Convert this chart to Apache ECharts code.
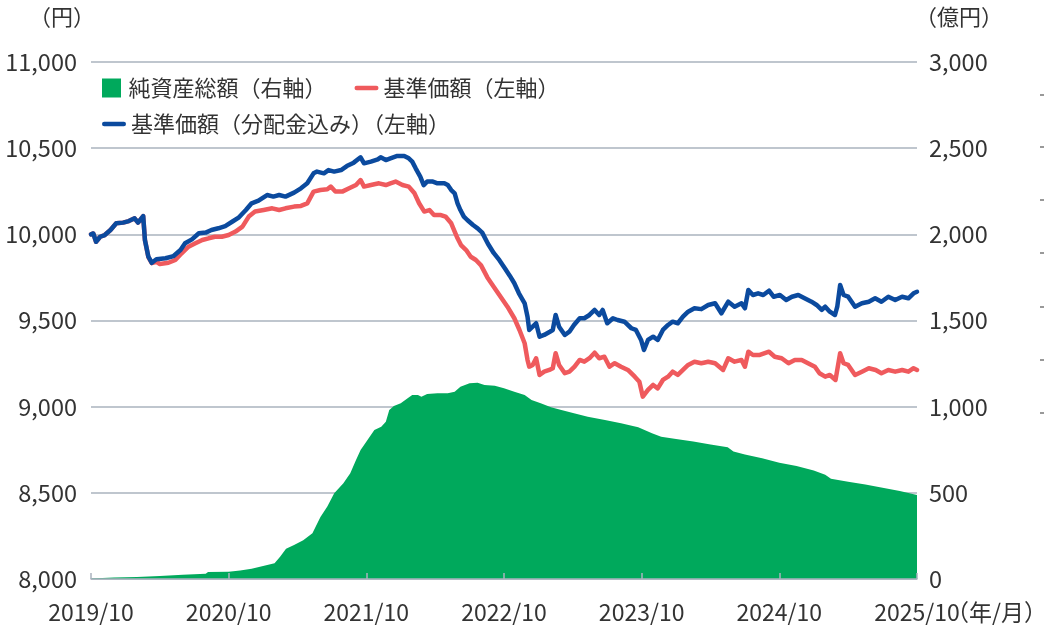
<!DOCTYPE html>
<html>
<head>
<meta charset="utf-8">
<script src="https://cdn.jsdelivr.net/npm/echarts@6/dist/echarts.min.js"></script>
<style>
html,body{margin:0;padding:0;background:#fff;}
#c{width:1044px;height:630px;}
</style>
</head>
<body>
<div id="c"></div>
<script>
// x values are months elapsed since 2019/10
const xTickLabels = ['2019/10','2020/10','2021/10','2022/10','2023/10','2024/10','2025/10'];
const leftTicks = [8000, 11000, 500];
const rightTicks = [0, 3000, 500];

const assetMonths = [0,2,4,6,8,10,10.2,12,13,14,15,16,16.5,17,17.7,18.5,19.3,20,20.6,21.2,22,22.6,23.1,23.5,24.1,24.7,25.3,25.7,26,26.4,27,27.6,28,28.5,28.8,29.3,30.2,31.1,31.7,32.2,33,33.7,34.3,35.2,36,36.9,37.8,38.4,39.2,40.1,41,42.1,43.3,44.8,46.2,47.7,48.9,49.7,51,52.5,54,55.5,56,57,58.5,60,61.5,63,64,64.5,66,67.5,69,70.5,72];
const assetValues = [3,8,12,18,25,30,40,42,50,60,75,92,130,175,197,225,265,360,420,497,555,613,690,749,807,865,884,913,981,1004,1020,1049,1068,1068,1058,1074,1078,1078,1087,1116,1136,1139,1126,1122,1107,1087,1068,1039,1020,996,981,962,942,923,904,880,846,826,812,798,780,765,740,722,700,675,655,630,605,582,565,548,530,510,488];

const blueMonths = [0,0.2,0.44,0.8,1.2,1.7,2.2,2.8,3.3,3.8,4.1,4.55,4.7,5.0,5.3,5.7,6.5,7.2,7.8,8.2,8.8,9.4,10.0,10.5,11.1,11.7,12.3,12.9,13.5,14.0,14.6,15.35,15.9,16.4,16.95,17.7,18.3,18.85,19.4,19.7,20.3,20.7,21.2,21.8,22.3,22.9,23.5,23.8,24.4,25.0,25.25,25.7,26.1,26.7,27.3,27.7,28.0,28.3,28.7,29.0,29.3,29.8,30.2,30.8,31.1,31.4,31.7,31.95,32.2,32.5,32.8,33.3,33.7,34.1,34.6,35.1,35.6,36.1,36.5,36.9,37.3,37.8,38.05,38.2,38.5,38.8,39.1,39.5,40.0,40.25,40.5,40.8,41.3,41.7,42.1,42.6,43.0,43.45,43.9,44.3,44.6,45.0,45.5,45.9,46.5,47.1,47.5,47.95,48.2,48.55,49.0,49.4,49.85,50.3,50.7,51.15,51.6,52.05,52.6,53.2,53.8,54.4,54.95,55.55,56.1,56.7,57.0,57.3,57.7,58.15,58.6,59.1,59.5,60.05,60.6,61.1,61.65,62.2,62.8,63.25,63.7,64.0,64.4,64.85,65.05,65.3,65.6,66.0,66.6,67.2,67.8,68.35,68.9,69.5,70.1,70.7,71.25,71.7,72.0];
const blueValues = [10000,10005,9957,9986,9996,10025,10064,10068,10077,10093,10068,10106,9967,9870,9835,9855,9861,9874,9909,9948,9971,10006,10010,10025,10035,10048,10073,10099,10141,10180,10195,10228,10219,10228,10219,10242,10267,10296,10354,10364,10354,10373,10364,10373,10396,10416,10447,10412,10422,10435,10447,10431,10441,10455,10455,10441,10422,10383,10335,10286,10306,10306,10296,10296,10286,10257,10238,10180,10141,10103,10083,10054,10035,10010,9945,9892,9850,9800,9760,9716,9658,9600,9522,9445,9464,9484,9406,9416,9435,9445,9532,9464,9416,9435,9474,9513,9513,9532,9561,9532,9561,9484,9513,9503,9493,9455,9445,9387,9329,9387,9406,9387,9445,9474,9493,9484,9522,9551,9571,9566,9590,9600,9542,9609,9580,9600,9571,9677,9648,9658,9648,9673,9638,9648,9619,9638,9648,9629,9609,9590,9561,9580,9551,9532,9580,9706,9648,9638,9580,9600,9609,9629,9609,9638,9619,9638,9629,9658,9667];

const redMonths = [0,0.2,0.44,0.8,1.2,1.7,2.2,2.8,3.3,3.8,4.1,4.55,4.7,5.0,5.3,5.7,6.0,6.75,7.35,7.9,8.5,9.1,9.7,10.25,10.8,11.4,12.0,12.6,13.2,13.75,14.3,15.05,15.8,16.4,16.95,17.7,18.3,18.85,19.4,20.0,20.6,20.9,21.3,21.9,22.5,23.1,23.5,23.8,24.4,25.1,25.7,26.1,26.55,27.15,27.7,28.2,28.6,29.05,29.5,29.9,30.5,30.9,31.4,31.7,31.95,32.25,32.7,33.1,33.55,34.0,34.55,35.1,35.7,36.3,36.9,37.35,37.8,38.05,38.2,38.5,38.8,39.1,39.5,39.95,40.25,40.5,40.8,41.3,41.7,42.15,42.6,43.0,43.45,43.9,44.3,44.75,45.2,45.65,46.2,46.8,47.4,47.8,48.1,48.55,49.0,49.4,49.85,50.3,50.7,51.15,51.6,52.05,52.6,53.2,53.8,54.4,55.1,55.55,56.1,56.7,57.0,57.3,57.7,58.3,59.1,59.6,60.2,60.8,61.35,61.95,62.5,63.1,63.5,64.0,64.4,64.9,65.3,65.6,66.0,66.6,67.2,67.8,68.4,68.9,69.5,70.1,70.7,71.25,71.7,72.0];
const redValues = [10000,10005,9957,9986,9996,10025,10064,10068,10077,10093,10068,10106,9967,9868,9833,9840,9828,9835,9851,9890,9928,9948,9967,9977,9986,9986,9996,10016,10045,10103,10132,10141,10151,10141,10151,10161,10165,10180,10248,10257,10261,10277,10248,10248,10267,10286,10315,10277,10286,10296,10286,10296,10306,10286,10277,10238,10180,10132,10141,10112,10112,10103,10064,10016,9977,9938,9909,9870,9851,9820,9750,9696,9638,9580,9513,9445,9368,9271,9232,9242,9281,9184,9203,9213,9223,9310,9242,9194,9203,9232,9271,9261,9281,9313,9281,9290,9232,9252,9232,9213,9174,9145,9058,9097,9126,9106,9155,9174,9203,9184,9213,9242,9261,9252,9261,9252,9213,9281,9261,9271,9232,9319,9300,9300,9319,9290,9281,9252,9271,9271,9252,9232,9194,9174,9184,9155,9310,9252,9242,9184,9203,9223,9213,9194,9213,9203,9213,9203,9223,9213];

const NAMES = ['純資産総額（右軸）','基準価額（左軸）','基準価額（分配金込み）（左軸）'];
const GREEN = '#00a95c', RED = '#ef5a5d', BLUE = '#0b4a9e';
const FONT = "'Noto Sans CJK JP','Noto Sans',sans-serif";
const TXT = '#333333';
const GRID = '#aab3be';

const zip = (xs, ys) => xs.map((x, i) => [x, ys[i]]);
const fmt = v => v.toLocaleString('en-US');
const SQ = 'path://M0,0H10V10H0Z';
const LN = 'path://M2,0H20A2,2,0,0,1,20,4H2A2,2,0,0,1,2,0Z';

const chart = echarts.init(document.getElementById('c'), null, {renderer:'canvas'});
const dashes = [95,147,200,253,307,360,413].map(y => ({
  type:'line', shape:{x1:1040,y1:y,x2:1044,y2:y}, style:{stroke:'#555',lineWidth:1.2}, silent:true
}));
chart.setOption({
  animation:false,
  backgroundColor:'#fff',
  textStyle:{fontFamily:FONT},
  grid:{left:91, right:127, top:62, bottom:51, containLabel:false},
  legend:[
    {left:102, top:77, itemWidth:24, itemHeight:19, itemGap:28, padding:0,
     textStyle:{fontFamily:FONT, fontSize:22, color:TXT},
     data:[{name:NAMES[0], icon:SQ, itemStyle:{color:GREEN}}, {name:NAMES[1], icon:LN, itemStyle:{color:RED}}]},
    {left:102, top:113, itemWidth:24, itemHeight:19, padding:0,
     textStyle:{fontFamily:FONT, fontSize:22, color:TXT},
     data:[{name:NAMES[2], icon:LN, itemStyle:{color:BLUE}}]}
  ],
  xAxis:{
    type:'value', min:0, max:72, interval:12, z:10,
    axisLine:{show:true, lineStyle:{color:GRID, width:1.5}},
    axisTick:{show:true, inside:true, length:6, lineStyle:{color:GRID, width:1.5}},
    splitLine:{show:false},
    axisLabel:{margin:22, fontSize:23, color:TXT, fontFamily:FONT,
      formatter: v => xTickLabels[Math.round(v/12)] || ''}
  },
  yAxis:[
    {type:'value', min:leftTicks[0], max:leftTicks[1], interval:leftTicks[2], position:'left',
     axisLine:{show:false}, axisTick:{show:false},
     splitLine:{show:true, lineStyle:{color:GRID, width:1.5}},
     axisLabel:{margin:14, fontSize:23.5, color:TXT, fontFamily:FONT, formatter: fmt}},
    {type:'value', min:rightTicks[0], max:rightTicks[1], interval:rightTicks[2], position:'right',
     axisLine:{show:false}, axisTick:{show:false}, splitLine:{show:false},
     axisLabel:{margin:12, fontSize:23.5, color:TXT, fontFamily:FONT, formatter: fmt}}
  ],
  series:[
    {name:NAMES[0], type:'line', yAxisIndex:1, data:zip(assetMonths, assetValues),
     symbol:'none', lineStyle:{width:0, color:GREEN}, itemStyle:{color:GREEN},
     areaStyle:{color:GREEN, opacity:1}, z:1},
    {name:NAMES[1], type:'line', yAxisIndex:0, data:zip(redMonths, redValues),
     symbol:'none', lineStyle:{width:4.5, color:RED, cap:'round', join:'round'}, itemStyle:{color:RED}, z:3},
    {name:NAMES[2], type:'line', yAxisIndex:0, data:zip(blueMonths, blueValues),
     symbol:'none', lineStyle:{width:4.5, color:BLUE, cap:'round', join:'round'}, itemStyle:{color:BLUE}, z:4}
  ],
  graphic:[
    {type:'text', left:29, top:6, style:{text:'（円）', font:'22px '+FONT, fill:TXT}},
    {type:'text', left:915, top:6, style:{text:'（億円）', font:'22px '+FONT, fill:TXT}},
    {type:'text', left:946, top:601, style:{text:'（年/月）', font:'23px '+FONT, fill:TXT}}
  ].concat(dashes)
});
</script>
</body>
</html>
